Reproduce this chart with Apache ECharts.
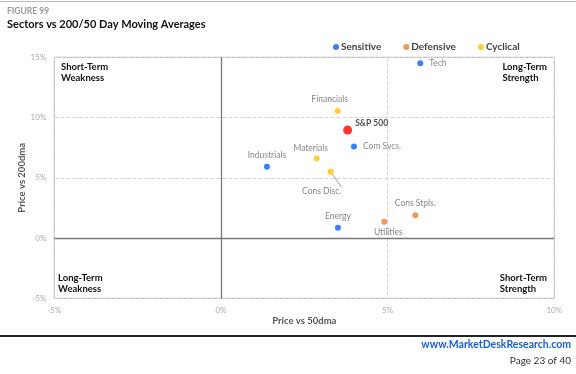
<!DOCTYPE html>
<html><head><meta charset="utf-8">
<script src="https://cdn.jsdelivr.net/npm/echarts@6/dist/echarts.min.js"></script>
<style>html,body{margin:0;padding:0;background:#fff}#c{width:576px;height:374px}</style>
</head><body><div id="c"></div>
<script>
// Data
const sensitiveNames = ['Tech', 'Com Svcs.', 'Industrials', 'Energy'];
const sensitiveX = [5.98, 3.99, 1.38, 3.51];
const sensitiveY = [14.5, 7.6, 5.92, 0.86];
const defensiveNames = ['Cons Stpls.', 'Utilities'];
const defensiveX = [5.83, 4.9];
const defensiveY = [1.9, 1.35];
const cyclicalNames = ['Financials', 'Materials', 'Cons Disc.'];
const cyclicalX = [3.5, 2.87, 3.29];
const cyclicalY = [10.54, 6.6, 5.5];
const spName = 'S&P 500';
const spX = [3.8];
const spY = [8.96];
const xTicks = [-5, 0, 5, 10];
const yTicks = [-5, 0, 5, 10, 15];

const FONT = 'Lato';
const labelStyle = {
  'Tech': {position: 'right', distance: 6},
  'Com Svcs.': {position: 'right', distance: 6},
  'Industrials': {position: 'top', distance: 4},
  'Energy': {position: 'top', distance: 4},
  'Cons Stpls.': {position: 'top', distance: 4},
  'Utilities': {position: 'bottom', distance: 3, offset: [4, 0]},
  'Financials': {position: 'top', distance: 4, offset: [-8, 0]},
  'Materials': {position: 'top', distance: 3, offset: [-6, 0]},
  'Cons Disc.': {position: 'bottom', distance: 3, offset: [-9, 9]}
};
const leader = {'Cons Disc.': true};

function build(names, xs, ys) {
  return names.map((n, i) => {
    const ls = labelStyle[n] || {};
    return {name: n, value: [xs[i], ys[i]], label: Object.assign({}, ls),
      labelLine: {show: !!leader[n], length2: 0, lineStyle: {color: '#999'}}};
  });
}

const commonLabel = {show: true, formatter: '{b}', color: '#666', fontSize: 8.5, fontFamily: FONT};

const chart = echarts.init(document.getElementById('c'), null, {renderer: 'canvas'});
const option = {
  animation: false,
  textStyle: {fontFamily: FONT},
  title: [
    {text: 'FIGURE 99', left: 2, top: 2, textStyle: {fontSize: 8.5, fontWeight: 'bold', color: '#999', fontFamily: FONT}},
    {text: 'Sectors vs 200/50 Day Moving Averages', left: 2, top: 14, textStyle: {fontSize: 11, fontWeight: 'bold', color: '#111', fontFamily: FONT}}
  ],
  legend: {
    data: ['Sensitive', 'Defensive', 'Cyclical'],
    top: 37, left: 328, itemGap: 22, itemWidth: 6, itemHeight: 6, icon: 'circle',
    textStyle: {fontSize: 10, fontWeight: 'bold', color: '#444', fontFamily: FONT, padding: [0, 0, 0, -3]}
  },
  grid: {left: 54.3, right: 21.7, top: 57.3, bottom: 75.7, show: true, borderColor: '#aaa', borderWidth: 1},
  xAxis: {
    type: 'value', min: -5, max: 10, interval: 5,
    name: 'Price vs 50dma', nameLocation: 'middle', nameGap: 18, nameMoveOverlap: false,
    nameTextStyle: {fontSize: 9.5, fontWeight: 'bold', color: '#555', fontFamily: FONT},
    axisLine: {show: false}, axisTick: {show: false},
    axisLabel: {formatter: v => v + '%', fontSize: 8, color: '#aaa', margin: 8, fontFamily: FONT},
    splitLine: {show: true, lineStyle: {type: 'dashed', color: '#d4d4d4'}}
  },
  yAxis: {
    type: 'value', min: -5, max: 15, interval: 5,
    name: 'Price vs 200dma', nameLocation: 'middle', nameGap: 27, nameMoveOverlap: false,
    nameTextStyle: {fontSize: 9.5, fontWeight: 'bold', color: '#555', fontFamily: FONT},
    axisLine: {show: false}, axisTick: {show: false},
    axisLabel: {formatter: v => v + '%', fontSize: 8, color: '#aaa', margin: 8, fontFamily: FONT},
    splitLine: {show: true, lineStyle: {type: 'dashed', color: '#d4d4d4'}}
  },
  series: [
    {
      name: 'Sensitive', type: 'scatter', symbolSize: 6, itemStyle: {color: '#0a5cff'},
      label: commonLabel,
      data: build(sensitiveNames, sensitiveX, sensitiveY),
      markLine: {
        silent: true, symbol: 'none', label: {show: false},
        lineStyle: {color: '#777', type: 'solid', width: 1.3},
        data: [{xAxis: 0}, {yAxis: 0}]
      },
      z: 3
    },
    {
      name: 'Defensive', type: 'scatter', symbolSize: 6, itemStyle: {color: '#ed7d31'},
      label: commonLabel, data: build(defensiveNames, defensiveX, defensiveY), z: 3
    },
    {
      name: 'Cyclical', type: 'scatter', symbolSize: 6, itemStyle: {color: '#ffc000'},
      label: commonLabel,
      data: build(cyclicalNames, cyclicalX, cyclicalY), z: 3
    },
    {
      name: spName, type: 'scatter', symbolSize: 9, itemStyle: {color: '#ff0000'},
      label: {show: true, formatter: '{b}', position: 'right', offset: [0, -7], distance: 3, color: '#222', fontSize: 8.5, fontWeight: 'bold', fontFamily: FONT},
      data: [{name: spName, value: [spX[0], spY[0]]}], z: 4
    }
  ],
  graphic: [
    {type: 'line', shape: {x1: 0, y1: 1.5, x2: 576, y2: 1.5}, style: {stroke: '#bbb', lineWidth: 1}},
    {type: 'line', shape: {x1: 0, y1: 336, x2: 576, y2: 336}, style: {stroke: '#222', lineWidth: 2}},
    {type: 'text', left: 61, top: 61, style: {text: 'Short-Term\nWeakness', font: 'bold 9.5px ' + FONT, fill: '#111', lineHeight: 11}},
    {type: 'text', right: 29, top: 61, style: {text: 'Long-Term\nStrength', font: 'bold 9.5px ' + FONT, fill: '#111', lineHeight: 11, align: 'right'}},
    {type: 'text', left: 58, top: 272, style: {text: 'Long-Term\nWeakness', font: 'bold 9.5px ' + FONT, fill: '#111', lineHeight: 11}},
    {type: 'text', right: 29, top: 272, style: {text: 'Short-Term\nStrength', font: 'bold 9.5px ' + FONT, fill: '#111', lineHeight: 11, align: 'right'}},
    {type: 'text', right: 5, top: 339, style: {text: 'www.MarketDeskResearch.com', font: 'bold 10.5px ' + FONT, fill: '#1560d8'}},
    {type: 'text', right: 5, top: 356, style: {text: 'Page 23 of 40', font: '10px ' + FONT, fill: '#333'}}
  ]
};
chart.setOption(option);
</script></body></html>
